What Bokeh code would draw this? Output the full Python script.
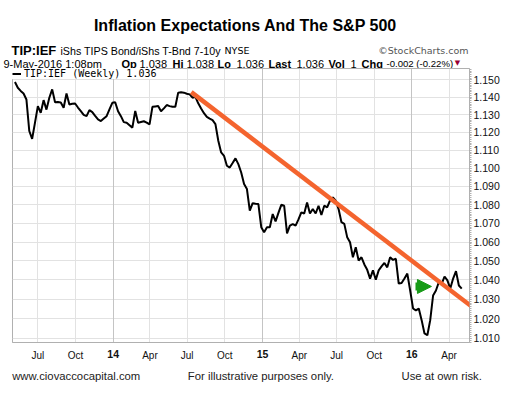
import pandas as pd
import numpy as np
from bokeh.plotting import figure
from bokeh.layouts import column
from bokeh.core.properties import value
from bokeh.models import (Range1d, FixedTicker, NumeralTickFormatter, Arrow, DatetimeAxis,
                          NormalHead, Grid, Legend, LegendItem, ColumnDataSource)
from bokeh.embed import file_html
from bokeh.resources import INLINE

# ---------------- data ----------------
ratio_values = [
    1.1487, 1.1454, 1.1436, 1.1421, 1.1387, 1.1208, 1.1164, 1.1255, 1.1349, 1.1311,
    1.1383, 1.1329, 1.1397, 1.1445, 1.1371, 1.1372, 1.1370, 1.1340, 1.1421, 1.1358,
    1.1362, 1.1364, 1.1341, 1.1320, 1.1299, 1.1292, 1.1326, 1.1315, 1.1293, 1.1273,
    1.1264, 1.1278, 1.1292, 1.1330, 1.1368, 1.1371, 1.1320, 1.1292, 1.1258, 1.1255,
    1.1241, 1.1227, 1.1321, 1.1255, 1.1259, 1.1263, 1.1255, 1.1245, 1.1345, 1.1347,
    1.1349, 1.1320, 1.1336, 1.1355, 1.1349, 1.1345, 1.1345, 1.1426, 1.1428, 1.1426,
    1.1420, 1.1416, 1.1397, 1.1402, 1.1365, 1.1336, 1.1309, 1.1288, 1.1278, 1.1269,
    1.1247, 1.1153, 1.1088, 1.1069, 1.1014, 1.1004, 1.1029, 1.1055, 1.1023, 1.0977,
    1.0913, 1.0886, 1.0768, 1.0809, 1.0806, 1.0804, 1.0679, 1.0652, 1.0679, 1.0679,
    1.0750, 1.0710, 1.0756, 1.0800, 1.0795, 1.0646, 1.0688, 1.0696, 1.0688, 1.0721,
    1.0759, 1.0753, 1.0813, 1.0753, 1.0777, 1.0753, 1.0795, 1.0745, 1.0795, 1.0786,
    1.0822, 1.0840, 1.0822, 1.0777, 1.0706, 1.0697, 1.0626, 1.0599, 1.0519, 1.0572,
    1.0502, 1.0519, 1.0481, 1.0453, 1.0407, 1.0450, 1.0401, 1.0450, 1.0471, 1.0489,
    1.0466, 1.0519, 1.0505, 1.0511, 1.0381, 1.0384, 1.0408, 1.0433, 1.0345, 1.0252,
    1.0242, 1.0252, 1.0192, 1.0124, 1.0115, 1.0192, 1.0319, 1.0345, 1.0388, 1.0380,
    1.0418, 1.0398, 1.0355, 1.0407, 1.0446, 1.0371, 1.0355,
]
last_week = "2016-05-02"
week_dates = pd.date_range(end=last_week, periods=len(ratio_values), freq="7D")

trend_dates = ["2014-07-11", "2016-06-07"]
trend_values = [1.1429, 1.0243]

arrow_dates = ["2016-01-10", "2016-02-18"]
arrow_value = 1.0366

month_tick_dates = ["2013-07-01", "2013-10-01", "2014-04-01", "2014-07-01", "2014-10-01",
                    "2015-04-01", "2015-07-01", "2015-10-01", "2016-04-01"]
month_tick_labels = ["Jul", "Oct", "Apr", "Jul", "Oct", "Apr", "Jul", "Oct", "Apr"]
year_tick_dates = ["2014-01-01", "2015-01-01", "2016-01-01"]
year_tick_labels = ["14", "15", "16"]
y_tick_values = [1.010, 1.020, 1.030, 1.040, 1.050, 1.060, 1.070, 1.080,
                 1.090, 1.100, 1.110, 1.120, 1.130, 1.140, 1.150]

title_text = "Inflation Expectations And The S&P 500"
symbol_text = "TIP:IEF"
name_text = "iShs TIPS Bond/iShs T-Bnd 7-10y"
exchange_text = "NYSE"
source_text = "\u00a9StockCharts.com"
quote_items = [("9-May-2016 1:08pm", False), ("Op", True), ("1.038", False),
               ("Hi", True), ("1.038", False), ("Lo", True), ("1.036", False),
               ("Last", True), ("1.036", False), ("Vol", True), ("1", False),
               ("Chg", True), ("-0.002 (-0.22%)", False)]
legend_text = "TIP:IEF (Weekly) 1.036"
footer_texts = ["www.ciovaccocapital.com", "For illustrative purposes only.", "Use at own risk."]

x_start, x_end = "2013-04-30", "2016-05-21"
y_start, y_end = 1.00782, 1.15655


def ms(d):
    return pd.Timestamp(d).value // 10**6


FONT = "Liberation Sans"
W = 520


def blank_fig(h):
    f = figure(width=W, height=h, x_range=Range1d(0, W), y_range=Range1d(h, 0),
               output_backend="svg", toolbar_location=None,
               x_axis_location=None, y_axis_location=None,
               min_border=0, min_border_left=0, min_border_right=0,
               min_border_top=0, min_border_bottom=0, frame_align=False)
    f.grid.visible = False
    f.outline_line_color = None
    f.background_fill_color = "white"
    f.border_fill_color = "white"
    return f


def put(f, x, y, text, size="11px", bold=False, font=FONT, color="#000000", align="left"):
    f.text(x=[x], y=[y], text=[text], text_font=value(font), text_font_size=value(size),
           text_font_style="bold" if bold else "normal", text_color=color,
           text_align=align, text_baseline="middle")


# ---------------- header ----------------
HEAD_H = 68
head = blank_fig(HEAD_H)
put(head, 245, 25, title_text, size="16px", bold=True, align="center")
put(head, 11, 50, symbol_text, size="13px", bold=True)
put(head, 60, 50, name_text, size="10.7px")
put(head, 224, 50, exchange_text, size="9.5px", font="DejaVu Sans")
put(head, 468, 50, source_text, size="9.5px", font="DejaVu Sans", color="#555555", align="right")
quote_x = [3, 121, 139, 172, 186, 217, 236, 268, 296, 328, 350, 361, 386]
quote_sizes = ["11px"] * 12 + ["9.6px"]
for qx, qs, (t, b) in zip(quote_x, quote_sizes, quote_items):
    put(head, qx, 63, t, size=qs, bold=b)
put(head, 457, 62.5, "\u25bc", size="7px", font="DejaVu Sans", color="#990033", align="center")

# ---------------- main chart ----------------
MAIN_H = 300
src = ColumnDataSource(dict(date=week_dates, value=ratio_values))

p = figure(width=W, height=MAIN_H, x_axis_type="datetime", y_axis_type="log",
           y_axis_location="right",
           x_range=Range1d(ms(x_start), ms(x_end)), y_range=Range1d(y_start, y_end),
           output_backend="svg", toolbar_location=None, frame_align=False,
           min_border_left=12, min_border_right=51, min_border_top=0, min_border_bottom=26)
p.background_fill_color = "white"
p.border_fill_color = "white"
p.outline_line_color = "#b0b0b0"
p.outline_line_width = 1

month_ms = [ms(d) for d in month_tick_dates]
year_ms = [ms(d) for d in year_tick_dates]
xax = p.xaxis[0]
xax.ticker = FixedTicker(ticks=month_ms)
xax.major_label_overrides = {t: lab for t, lab in zip(month_ms, month_tick_labels)}
xax.major_tick_line_color = None
xax.minor_tick_line_color = None
xax.axis_line_color = "#b0b0b0"
xax.major_label_text_font = FONT
xax.major_label_text_font_size = "10px"
xax.major_label_text_color = "#111111"
xax.major_label_standoff = 1

year_axis = DatetimeAxis(ticker=FixedTicker(ticks=year_ms),
                         major_label_overrides={t: lab for t, lab in zip(year_ms, year_tick_labels)},
                         axis_line_color=None, major_tick_line_color=None,
                         minor_tick_line_color=None, major_label_standoff=-20,
                         major_label_text_font=FONT, major_label_text_font_size="10.5px",
                         major_label_text_font_style="bold", major_label_text_color="#111111")
p.add_layout(year_axis, "below")

p.xgrid.ticker = FixedTicker(ticks=month_ms)
p.xgrid.grid_line_color = "#e2e2e2"
p.add_layout(Grid(dimension=0, ticker=FixedTicker(ticks=year_ms),
                  grid_line_color="#c4c4c4", grid_line_width=1))

yax = p.yaxis[0]
minor = list(np.round(np.arange(1.008, 1.157, 0.001), 3))
yax.ticker = FixedTicker(ticks=y_tick_values, minor_ticks=minor)
yax.formatter = NumeralTickFormatter(format="0.000")
yax.axis_line_color = "#b0b0b0"
yax.major_tick_line_color = "#a0a0a0"
yax.major_tick_out = 2
yax.major_tick_in = 0
yax.minor_tick_line_color = "#b0b0b0"
yax.minor_tick_out = 2
yax.minor_tick_in = 0
yax.major_label_text_font = FONT
yax.major_label_text_font_size = "10.5px"
yax.major_label_text_color = "#111111"
yax.major_label_standoff = 2
p.ygrid.ticker = FixedTicker(ticks=y_tick_values)
p.ygrid.grid_line_color = "#e2e2e2"

r = p.line(x="date", y="value", source=src, line_color="black", line_width=2)

legend = Legend(items=[LegendItem(label=legend_text, renderers=[r])],
                location="top_left", margin=0, padding=1, spacing=0,
                glyph_width=9, glyph_height=9, label_height=9, label_standoff=3,
                label_text_font="DejaVu Sans Mono", label_text_font_size="10px",
                label_text_color="#000000",
                border_line_color=None, background_fill_color="white",
                background_fill_alpha=1.0)
p.add_layout(legend)

p.add_layout(Arrow(start=None, end=None,
                   x_start=ms(trend_dates[0]), y_start=trend_values[0],
                   x_end=ms(trend_dates[1]), y_end=trend_values[1],
                   line_color="#f4642e", line_width=4.5))

p.add_layout(Arrow(end=NormalHead(size=14, fill_color="#179b17", line_color="#179b17"),
                   x_start=ms(arrow_dates[0]), y_start=arrow_value,
                   x_end=ms(arrow_dates[1]), y_end=arrow_value,
                   line_color="#179b17", line_width=8))

# ---------------- footer ----------------
FOOT_H = 397 - HEAD_H - MAIN_H
foot = blank_fig(FOOT_H)
for fx, t in zip([11.7, 187.3, 401], footer_texts):
    put(foot, fx, 7.7, t, size="11.3px", color="#222222")

layout = column(head, p, foot, spacing=0)
open("out.html", "w").write(file_html(layout, INLINE))
